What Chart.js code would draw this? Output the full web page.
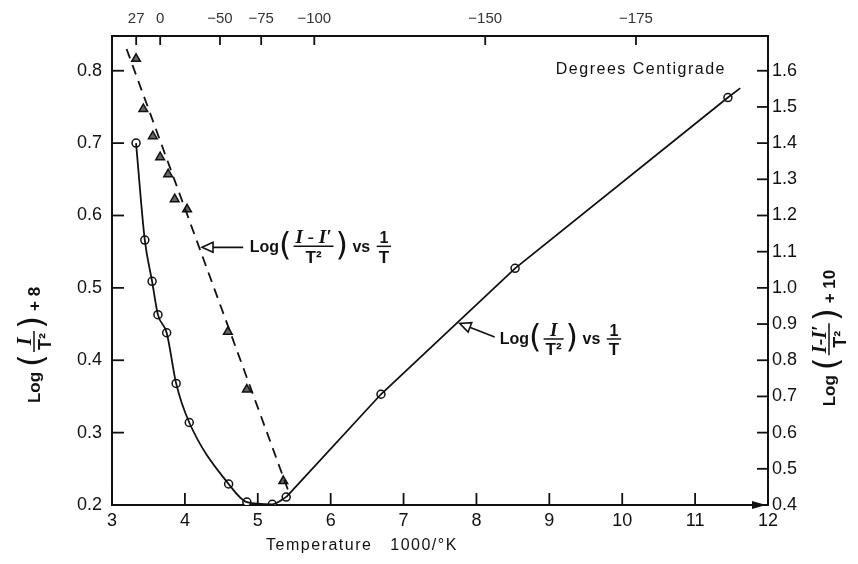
<!DOCTYPE html>
<html lang="en">
<head>
  <meta charset="UTF-8">
  <title>Log(I/T²) vs 1/T</title>
  <script src="https://cdn.jsdelivr.net/npm/chart.js@4.4.1/dist/chart.umd.min.js"></script>
  <style>
    * { margin: 0; padding: 0; box-sizing: border-box; }
    body { background: #fff; width: 858px; height: 564px; overflow: hidden; }
    #wrap { position: relative; width: 858px; height: 564px; }
  </style>
</head>
<body>
  <div id="wrap"><canvas id="chart" width="858" height="564"></canvas></div>

  <script>
    // circles: 1000/T against Log(I/T²)+8 (left axis)
    const circleX = [3.33, 3.45, 3.55, 3.63, 3.75, 3.88, 4.06, 4.60, 4.85, 5.20, 5.39, 6.69, 8.53, 11.45];
    const circleY = [0.700, 0.566, 0.509, 0.463, 0.438, 0.368, 0.314, 0.229, 0.204, 0.201, 0.211, 0.353, 0.527, 0.763];

    // solid curve: the bend through the low-temperature side, then the near-straight branch
    const bendX = [3.33, 3.45, 3.55, 3.63, 3.75, 3.88, 4.06, 4.60, 4.85, 5.20, 5.39];
    const bendY = [0.700, 0.566, 0.509, 0.463, 0.438, 0.368, 0.314, 0.229, 0.204, 0.201, 0.211];
    const branchX = [5.39, 6.69, 8.53, 11.45, 11.62];
    const branchY = [0.211, 0.353, 0.527, 0.763, 0.776];

    // triangles: 1000/T against Log((I-I')/T²)+10 (right axis)
    const triX = [3.33, 3.43, 3.56, 3.66, 3.77, 3.86, 4.03, 4.59, 4.85, 5.35];
    const triY = [1.633, 1.494, 1.419, 1.361, 1.314, 1.245, 1.217, 0.879, 0.719, 0.466];

    // dashed straight line drawn through the triangles
    const dashX = [3.20, 5.43];
    const dashY = [1.660, 0.433];

    const bottomTicks = [3, 4, 5, 6, 7, 8, 9, 10, 11, 12];
    const leftTicks = [0.2, 0.3, 0.4, 0.5, 0.6, 0.7, 0.8];
    const rightTicks = [0.4, 0.5, 0.6, 0.7, 0.8, 0.9, 1.0, 1.1, 1.2, 1.3, 1.4, 1.5, 1.6];
    const topCelsius = [27, 0, -50, -75, -100, -150, -175];
    const topLabels = ['27', '0', '−50', '−75', '−100', '−150', '−175'];

    const INK = '#111';
    const SANS = '"Liberation Sans", Arial, sans-serif';

    const pts = (xs, ys) => xs.map((x, i) => ({ x: x, y: ys[i] }));

    // draws "Log( num / den ) ..." style labels with real stacked fractions
    function drawFormula(ctx, parts, x, y, rot, size, align, weight) {
      ctx.save();
      ctx.translate(x, y);
      ctx.rotate(rot);
      ctx.fillStyle = INK;
      ctx.strokeStyle = INK;
      const w8 = weight || 'normal';
      const fonts = {
        txt: w8 + ' ' + size + 'px ' + SANS,
        par: (size * 2) + 'px "DejaVu Sans", sans-serif',
        num: 'italic ' + w8 + ' ' + (size + 3) + 'px "Liberation Serif", serif',
        plain: w8 + ' ' + size + 'px ' + SANS,
        den: w8 + ' ' + (size + 1) + 'px ' + SANS
      };
      const widths = parts.map(p => {
        if (p.num !== undefined) {
          ctx.font = p.plain ? fonts.plain : fonts.num;
          const a = ctx.measureText(p.num).width;
          ctx.font = fonts.den;
          const b = ctx.measureText(p.den).width;
          return Math.max(a, b) + 8;
        }
        ctx.font = p.paren ? fonts.par : fonts.txt;
        return ctx.measureText(p.s).width;
      });
      const total = widths.reduce((s, w) => s + w, 0);
      let cx = align === 'left' ? 0 : -total / 2;
      parts.forEach((p, i) => {
        const w = widths[i];
        if (p.num !== undefined) {
          ctx.lineWidth = 1.5;
          ctx.beginPath();
          ctx.moveTo(cx + 2, -1);
          ctx.lineTo(cx + w - 2, -1);
          ctx.stroke();
          ctx.textAlign = 'center';
          ctx.textBaseline = 'alphabetic';
          ctx.font = p.plain ? fonts.plain : fonts.num;
          ctx.fillText(p.num, cx + w / 2, -4);
          ctx.textBaseline = 'top';
          ctx.font = fonts.den;
          ctx.fillText(p.den, cx + w / 2, 2);
        } else {
          ctx.textAlign = 'left';
          ctx.textBaseline = 'middle';
          ctx.font = p.paren ? fonts.par : fonts.txt;
          ctx.fillText(p.s, cx, p.paren ? -1 : 0);
        }
        cx += w;
      });
      ctx.restore();
    }

    function arrow(ctx, x1, y1, x2, y2) {
      const ang = Math.atan2(y2 - y1, x2 - x1);
      ctx.save();
      ctx.strokeStyle = INK;
      ctx.lineWidth = 1.6;
      ctx.beginPath();
      ctx.moveTo(x1, y1);
      ctx.lineTo(x2 - 8 * Math.cos(ang), y2 - 8 * Math.sin(ang));
      ctx.stroke();
      ctx.translate(x2, y2);
      ctx.rotate(ang);
      ctx.beginPath();
      ctx.moveTo(0, 0);
      ctx.lineTo(-11, -5);
      ctx.lineTo(-11, 5);
      ctx.closePath();
      ctx.fillStyle = '#fff';
      ctx.fill();
      ctx.stroke();
      ctx.restore();
    }

    const decorations = {
      id: 'decorations',
      afterDraw(chart) {
        const ctx = chart.ctx, a = chart.chartArea, s = chart.scales;
        ctx.save();
        ctx.strokeStyle = INK;
        ctx.lineWidth = 1.8;
        const seg = (x1, y1, x2, y2) => { ctx.beginPath(); ctx.moveTo(x1, y1); ctx.lineTo(x2, y2); ctx.stroke(); };

        // inward tick marks
        s.x.ticks.forEach(t => { const p = s.x.getPixelForValue(t.value); seg(p, a.bottom, p, a.bottom - 12); });
        s.xTop.ticks.forEach(t => { const p = s.xTop.getPixelForValue(t.value); seg(p, a.top, p, a.top + 9); });
        s.y.ticks.forEach(t => { const p = s.y.getPixelForValue(t.value); seg(a.left, p, a.left + 12, p); });
        s.yR.ticks.forEach(t => { const p = s.yR.getPixelForValue(t.value); seg(a.right - 11, p, a.right, p); });

        // arrow head at the end of the temperature axis
        ctx.fillStyle = INK;
        ctx.beginPath();
        ctx.moveTo(a.right - 2, a.bottom);
        ctx.lineTo(a.right - 16, a.bottom - 4);
        ctx.lineTo(a.right - 16, a.bottom + 4);
        ctx.closePath();
        ctx.fill();

        // axis titles
        ctx.fillStyle = INK;
        ctx.font = '16px ' + SANS;
        ctx.letterSpacing = '1.5px';
        ctx.textAlign = 'right';
        ctx.textBaseline = 'middle';
        ctx.fillText('Degrees Centigrade', a.right - 42, a.top + 34);
        ctx.textAlign = 'center';
        ctx.fillText('Temperature   1000/°K', 362, 546);
        ctx.letterSpacing = '0px';
        ctx.restore();

        drawFormula(ctx, [
          { s: 'Log ' }, { s: '(', paren: true }, { num: 'I', den: 'T²' }, { s: ')', paren: true }, { s: ' + 8' }
        ], 35, 345, -Math.PI / 2, 17, 'center', 'bold');
        drawFormula(ctx, [
          { s: 'Log ' }, { s: '(', paren: true }, { num: 'I-I′', den: 'T²' }, { s: ')', paren: true }, { s: ' + 10' }
        ], 830, 338, -Math.PI / 2, 17, 'center', 'bold');

        // curve labels with arrows, anchored in data units
        const px = v => s.x.getPixelForValue(v);
        const pyL = v => s.y.getPixelForValue(v);
        arrow(ctx, px(4.80), pyL(0.556), px(4.235), pyL(0.556));
        drawFormula(ctx, [
          { s: 'Log' }, { s: '(', paren: true }, { num: 'I - I′', den: 'T²' }, { s: ')', paren: true },
          { s: ' vs ' }, { num: '1', den: 'T', plain: true }
        ], px(4.89), pyL(0.556), 0, 16, 'left', 'bold');

        arrow(ctx, px(8.25), pyL(0.432), px(7.77), pyL(0.451));
        drawFormula(ctx, [
          { s: 'Log' }, { s: '(', paren: true }, { num: 'I', den: 'T²' }, { s: ')', paren: true },
          { s: ' vs ' }, { num: '1', den: 'T', plain: true }
        ], px(8.32), pyL(0.428), 0, 16, 'left', 'bold');
      }
    };

    const axisBorder = { display: true, color: INK, width: 2 };
    const noGrid = { display: true, drawOnChartArea: false, drawTicks: false, color: 'rgba(0,0,0,0)' };

    new Chart(document.getElementById('chart').getContext('2d'), {
      type: 'scatter',
      data: {
        datasets: [
          {
            label: 'curve',
            data: pts(bendX, bendY),
            xAxisID: 'x', yAxisID: 'y',
            showLine: true, pointRadius: 0,
            borderColor: INK, borderWidth: 1.8,
            cubicInterpolationMode: 'monotone'
          },
          {
            label: 'branch',
            data: pts(branchX, branchY),
            xAxisID: 'x', yAxisID: 'y',
            showLine: true, pointRadius: 0,
            borderColor: INK, borderWidth: 1.8, tension: 0
          },
          {
            label: 'dashed',
            data: pts(dashX, dashY),
            xAxisID: 'x', yAxisID: 'yR',
            showLine: true, pointRadius: 0,
            borderColor: INK, borderWidth: 1.8, borderDash: [10, 7]
          },
          {
            label: 'Log(I/T²)',
            data: pts(circleX, circleY),
            xAxisID: 'x', yAxisID: 'y',
            showLine: false, pointStyle: 'circle', pointRadius: 4,
            pointBackgroundColor: '#fff', pointBorderColor: INK, pointBorderWidth: 1.5
          },
          {
            label: "Log((I-I')/T²)",
            data: pts(triX, triY),
            xAxisID: 'x', yAxisID: 'yR',
            showLine: false, pointStyle: 'triangle', pointRadius: 5,
            pointBackgroundColor: '#666', pointBorderColor: INK, pointBorderWidth: 1.5
          }
        ]
      },
      options: {
        responsive: false,
        animation: false,
        devicePixelRatio: 1,
        layout: { padding: 0 },
        plugins: { legend: { display: false }, tooltip: { enabled: false } },
        scales: {
          x: {
            type: 'linear', position: 'bottom', min: 3, max: 12,
            afterBuildTicks: sc => { sc.ticks = bottomTicks.map(v => ({ value: v })); },
            afterFit: sc => { sc.height = 59; },
            grid: noGrid, border: axisBorder,
            ticks: { color: INK, padding: 5, font: { family: SANS, size: 18 }, callback: v => String(v) }
          },
          xTop: {
            type: 'linear', position: 'top', min: 3, max: 12,
            afterBuildTicks: sc => { sc.ticks = topCelsius.map(c => ({ value: 1000 / (c + 273.15) })); },
            afterFit: sc => { sc.height = 36; },
            grid: noGrid, border: axisBorder,
            ticks: { color: '#333', padding: 8, autoSkip: false, maxRotation: 0, font: { family: SANS, size: 15 },
                     callback: (v, i) => topLabels[i] }
          },
          y: {
            type: 'linear', position: 'left', min: 0.2, max: 0.848,
            afterBuildTicks: sc => { sc.ticks = leftTicks.map(v => ({ value: v })); },
            afterFit: sc => { sc.width = 112; },
            grid: noGrid, border: axisBorder,
            ticks: { color: INK, padding: 10, font: { family: SANS, size: 18 }, callback: v => v.toFixed(1) }
          },
          yR: {
            type: 'linear', position: 'right', min: 0.4, max: 1.696,
            afterBuildTicks: sc => { sc.ticks = rightTicks.map(v => ({ value: v })); },
            afterFit: sc => { sc.width = 90; },
            grid: noGrid, border: axisBorder,
            ticks: { color: INK, padding: 4, font: { family: SANS, size: 18 }, callback: v => v.toFixed(1) }
          }
        }
      },
      plugins: [decorations]
    });
  </script>
</body>
</html>
